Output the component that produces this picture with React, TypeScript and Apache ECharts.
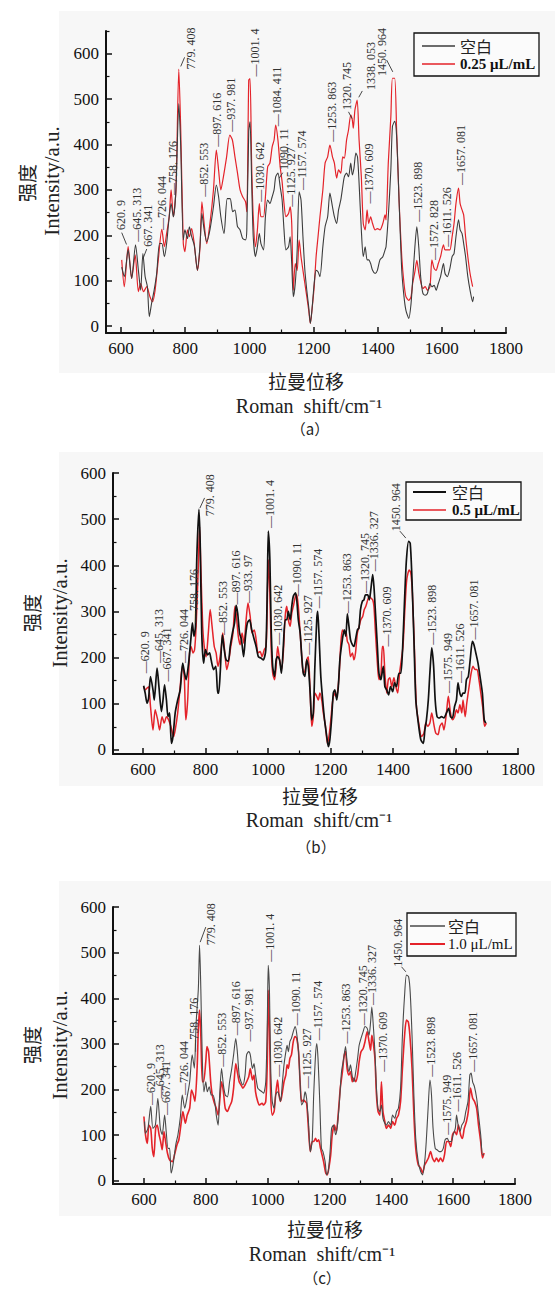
import React, { useEffect, useRef } from "react";
import * as echarts from "echarts";

// ---------- data (wavenumber cm-1, intensity a.u.) ----------
const blankA: [number, number][] = [[602,130],[610,109],[622,168],[633,105],[645,179],[654,123],[661,79],[668,160],[675,109],[682,87],[688,21],[695,50],[703,79],[711,116],[720,182],[727,182],[735,153],[742,182],[750,241],[756,270],[763,241],[771,300],[780,490],[786,395],[794,190],[799,212],[807,193],[813,219],[820,197],[828,179],[838,123],[846,177],[852,248],[859,212],[867,186],[877,212],[888,263],[897,311],[904,285],[911,241],[921,204],[931,281],[940,281],[948,252],[955,256],[963,219],[971,212],[979,193],[988,190],[992,212],[998,430],[1002,450],[1007,322],[1012,197],[1019,153],[1025,175],[1031,204],[1036,182],[1044,168],[1050,241],[1057,278],[1064,270],[1071,285],[1077,300],[1082,329],[1089,337],[1096,307],[1102,278],[1108,212],[1114,168],[1122,175],[1127,197],[1132,138],[1137,65],[1143,94],[1149,168],[1155,296],[1161,278],[1167,197],[1173,123],[1179,79],[1185,42],[1190,6],[1195,35],[1202,94],[1208,123],[1214,120],[1220,109],[1229,175],[1236,219],[1244,241],[1251,293],[1259,263],[1265,241],[1272,226],[1278,256],[1285,278],[1291,307],[1296,329],[1303,337],[1309,329],[1316,359],[1321,333],[1326,348],[1332,381],[1337,373],[1342,315],[1349,212],[1355,153],[1361,175],[1367,146],[1372,146],[1378,138],[1384,123],[1392,116],[1399,123],[1407,146],[1416,153],[1423,168],[1426,175],[1433,241],[1441,344],[1446,440],[1453,451],[1459,418],[1467,270],[1475,123],[1482,65],[1488,35],[1497,17],[1504,50],[1509,101],[1516,175],[1522,219],[1528,175],[1534,109],[1541,72],[1548,68],[1555,72],[1563,94],[1569,87],[1576,90],[1582,79],[1589,94],[1596,109],[1605,138],[1610,116],[1617,109],[1625,127],[1632,153],[1638,160],[1644,197],[1652,234],[1657,212],[1663,204],[1668,182],[1674,153],[1681,109],[1688,79],[1696,54],[1699,65]];
const dosedA: [number, number][] = [[602,146],[610,87],[622,175],[633,105],[644,157],[654,76],[661,94],[670,76],[680,87],[690,65],[698,54],[706,79],[716,146],[727,213],[735,175],[742,204],[750,241],[756,300],[763,241],[771,300],[780,566],[786,432],[794,182],[799,164],[807,212],[813,197],[820,215],[828,182],[838,123],[846,174],[852,274],[859,226],[867,182],[877,226],[888,300],[897,388],[904,344],[911,300],[919,329],[929,373],[939,421],[947,410],[955,373],[963,337],[971,300],[979,285],[988,274],[992,252],[998,542],[1002,545],[1007,359],[1012,241],[1019,175],[1025,212],[1031,270],[1036,241],[1044,241],[1050,285],[1057,351],[1064,359],[1071,395],[1077,410],[1082,443],[1089,410],[1096,351],[1102,318],[1108,270],[1114,241],[1122,248],[1127,263],[1132,226],[1137,79],[1143,138],[1149,123],[1155,190],[1161,153],[1167,123],[1173,94],[1179,65],[1185,35],[1190,6],[1195,35],[1202,87],[1208,153],[1214,197],[1220,241],[1229,300],[1236,359],[1244,373],[1251,399],[1259,373],[1265,359],[1272,326],[1278,344],[1285,337],[1291,373],[1296,370],[1303,410],[1309,432],[1316,465],[1321,454],[1324,436],[1329,476],[1336,498],[1342,410],[1349,329],[1355,226],[1361,212],[1367,256],[1372,226],[1378,241],[1384,226],[1392,212],[1399,215],[1407,212],[1416,226],[1423,245],[1426,234],[1433,359],[1441,461],[1446,546],[1453,546],[1459,432],[1467,270],[1475,153],[1482,94],[1488,65],[1497,57],[1504,65],[1509,94],[1516,120],[1522,145],[1528,118],[1534,98],[1541,83],[1548,87],[1555,79],[1563,87],[1569,146],[1576,127],[1582,123],[1589,138],[1596,153],[1605,179],[1610,168],[1617,168],[1625,168],[1632,197],[1638,226],[1644,270],[1652,304],[1657,270],[1663,256],[1668,245],[1674,197],[1681,153],[1688,116],[1696,87]];

const blankB: [number, number][] = [[602,139],[607,123],[613,101],[618,112],[624,159],[632,130],[636,108],[645,177],[651,137],[659,83],[664,108],[669,141],[675,108],[680,72],[685,80],[691,14],[696,29],[703,80],[711,108],[719,130],[727,188],[733,166],[738,152],[746,188],[753,239],[758,275],[763,246],[768,268],[772,412],[779,521],[783,448],[788,253],[794,188],[800,217],[807,206],[813,210],[818,195],[826,174],[833,181],[839,123],[842,123],[847,166],[854,249],[860,217],[866,195],[873,192],[879,224],[886,253],[893,275],[898,313],[903,296],[909,253],[915,239],[922,202],[928,246],[934,275],[941,282],[948,260],[956,239],[962,224],[969,202],[977,199],[985,195],[993,217],[998,362],[1001,474],[1006,412],[1010,268],[1015,181],[1021,159],[1026,195],[1031,202],[1037,195],[1043,166],[1049,224],[1055,282],[1060,282],[1065,300],[1071,282],[1076,311],[1081,333],[1088,340],[1092,325],[1097,282],[1103,253],[1108,202],[1113,166],[1118,159],[1124,195],[1129,181],[1135,123],[1140,65],[1145,80],[1150,181],[1156,282],[1159,300],[1163,253],[1169,159],[1175,108],[1181,65],[1188,29],[1193,7],[1198,22],[1204,72],[1209,123],[1214,130],[1220,108],[1225,137],[1230,195],[1238,239],[1244,260],[1249,246],[1254,295],[1259,268],[1264,239],[1270,228],[1275,224],[1280,239],[1286,260],[1291,264],[1296,304],[1302,322],[1307,325],[1312,336],[1319,336],[1324,325],[1329,347],[1335,380],[1339,354],[1344,296],[1350,224],[1355,166],[1361,152],[1365,166],[1369,181],[1374,137],[1380,130],[1386,119],[1392,137],[1399,126],[1405,145],[1411,137],[1419,166],[1425,166],[1431,224],[1437,325],[1443,412],[1450,452],[1455,448],[1460,383],[1467,239],[1473,108],[1481,58],[1489,22],[1497,14],[1502,43],[1507,65],[1513,108],[1518,166],[1524,221],[1530,181],[1535,108],[1541,72],[1548,69],[1555,72],[1563,69],[1571,80],[1578,90],[1584,72],[1590,69],[1597,94],[1603,108],[1608,145],[1614,123],[1619,116],[1624,123],[1630,123],[1635,152],[1641,159],[1647,195],[1654,235],[1659,228],[1665,210],[1672,188],[1680,152],[1686,123],[1692,65],[1697,58]];
const dosedB: [number, number][] = [[602,137],[607,130],[613,134],[618,137],[624,94],[632,43],[639,87],[647,65],[653,43],[661,72],[668,58],[675,72],[682,65],[689,51],[698,29],[703,43],[711,80],[719,137],[726,181],[732,159],[737,65],[743,108],[749,210],[754,224],[760,210],[765,217],[770,268],[777,398],[781,484],[785,398],[791,268],[796,224],[802,202],[809,253],[815,304],[821,268],[828,224],[834,210],[840,181],[845,195],[851,224],[855,253],[862,210],[868,174],[875,195],[881,224],[888,253],[894,311],[898,296],[905,246],[911,228],[917,253],[923,231],[930,282],[936,318],[943,289],[949,253],[956,260],[962,239],[968,210],[975,213],[981,202],[988,217],[994,224],[998,325],[1001,412],[1006,340],[1010,224],[1015,166],[1021,152],[1026,181],[1031,224],[1037,195],[1043,174],[1049,210],[1055,289],[1060,311],[1065,282],[1071,268],[1076,296],[1081,311],[1088,333],[1092,336],[1097,311],[1103,253],[1108,202],[1113,166],[1118,170],[1124,195],[1129,202],[1135,123],[1140,51],[1145,72],[1150,123],[1156,116],[1161,108],[1166,123],[1172,108],[1177,80],[1184,51],[1190,14],[1195,29],[1201,65],[1206,101],[1212,123],[1217,116],[1222,123],[1228,166],[1233,231],[1238,260],[1244,253],[1249,257],[1254,235],[1259,228],[1264,202],[1270,210],[1275,195],[1280,210],[1286,253],[1292,268],[1297,282],[1303,289],[1308,304],[1313,311],[1319,325],[1324,333],[1329,329],[1335,325],[1339,311],[1344,253],[1350,188],[1355,152],[1361,159],[1366,224],[1369,224],[1374,166],[1380,123],[1385,152],[1390,156],[1396,137],[1403,156],[1409,137],[1415,123],[1421,166],[1426,192],[1432,224],[1438,304],[1444,369],[1452,390],[1457,383],[1462,340],[1469,210],[1475,94],[1484,51],[1491,29],[1499,36],[1505,58],[1511,51],[1518,58],[1524,80],[1531,54],[1537,36],[1544,33],[1550,51],[1557,58],[1563,43],[1571,80],[1577,116],[1584,80],[1590,65],[1597,72],[1603,87],[1608,80],[1614,98],[1620,80],[1624,108],[1631,72],[1636,101],[1642,130],[1650,166],[1656,181],[1663,174],[1669,174],[1675,152],[1681,123],[1688,87],[1693,51],[1699,58]];

const blankC: [number, number][] = [[602,130],[605,104],[613,115],[622,163],[629,115],[637,122],[645,181],[653,115],[659,101],[667,144],[672,108],[678,71],[683,71],[688,17],[694,35],[703,79],[710,101],[718,141],[724,188],[732,159],[739,181],[748,217],[756,276],[763,247],[769,348],[776,421],[780,516],[784,421],[789,261],[794,195],[800,217],[805,195],[811,206],[818,188],[823,188],[829,174],[834,144],[840,122],[845,188],[851,246],[857,210],[863,188],[870,184],[877,217],[884,246],[890,276],[897,312],[902,283],[908,232],[914,217],[920,210],[927,232],[932,276],[939,283],[944,276],[951,246],[956,257],[961,232],[968,203],[974,199],[982,195],[987,192],[994,217],[999,348],[1002,472],[1006,414],[1010,246],[1015,174],[1021,159],[1026,188],[1032,195],[1037,188],[1042,174],[1048,217],[1053,254],[1059,283],[1063,297],[1067,283],[1072,305],[1077,312],[1083,327],[1089,338],[1094,323],[1100,283],[1105,217],[1110,166],[1116,174],[1121,195],[1126,181],[1132,130],[1138,64],[1144,86],[1149,188],[1155,276],[1159,301],[1163,268],[1169,166],[1174,71],[1179,64],[1186,42],[1191,13],[1196,20],[1202,64],[1207,115],[1213,122],[1220,101],[1226,122],[1233,181],[1239,239],[1246,268],[1252,294],[1257,261],[1263,239],[1268,254],[1274,228],[1279,217],[1285,239],[1291,268],[1296,297],[1302,312],[1309,327],[1315,338],[1322,334],[1328,319],[1333,348],[1337,381],[1341,348],[1347,283],[1352,203],[1357,159],[1363,152],[1368,166],[1373,137],[1379,126],[1384,122],[1391,130],[1398,122],[1404,144],[1411,137],[1417,152],[1423,159],[1430,203],[1436,319],[1443,407],[1449,451],[1456,447],[1461,414],[1467,319],[1473,188],[1479,93],[1487,42],[1495,20],[1501,13],[1508,42],[1513,86],[1519,159],[1525,221],[1530,188],[1535,115],[1542,71],[1548,68],[1555,64],[1561,64],[1568,71],[1574,90],[1581,93],[1587,86],[1594,86],[1600,101],[1607,115],[1611,144],[1616,122],[1622,108],[1628,122],[1635,130],[1641,152],[1648,174],[1654,232],[1658,236],[1663,217],[1669,206],[1676,181],[1682,144],[1689,101],[1695,57],[1700,57]];
const dosedC: [number, number][] = [[600,141],[605,101],[611,82],[616,122],[622,115],[627,71],[632,53],[638,115],[643,122],[649,101],[654,86],[659,68],[665,108],[670,86],[676,61],[683,46],[692,42],[699,57],[707,79],[713,90],[721,130],[726,152],[734,126],[740,144],[748,159],[754,199],[760,188],[765,174],[772,246],[776,334],[780,374],[784,319],[789,217],[793,217],[800,261],[804,294],[809,283],[816,217],[821,188],[828,170],[834,159],[840,144],[845,174],[851,217],[857,195],[863,159],[870,152],[877,163],[884,174],[890,203],[897,257],[902,239],[908,217],[914,210],[920,203],[927,210],[932,217],[939,228],[944,246],[951,221],[956,232],[961,195],[968,174],[974,166],[982,170],[987,166],[994,174],[999,261],[1002,418],[1006,334],[1010,188],[1015,144],[1021,152],[1026,188],[1032,221],[1037,188],[1042,174],[1048,195],[1053,217],[1059,232],[1063,254],[1067,246],[1072,268],[1077,276],[1083,305],[1089,316],[1094,312],[1100,283],[1105,217],[1110,174],[1116,177],[1121,174],[1126,170],[1132,115],[1138,64],[1144,86],[1149,86],[1155,93],[1160,86],[1165,90],[1171,71],[1176,57],[1181,42],[1188,17],[1193,13],[1198,28],[1204,57],[1209,101],[1216,122],[1222,108],[1229,152],[1235,203],[1242,239],[1247,272],[1252,283],[1257,246],[1263,232],[1268,239],[1274,217],[1279,225],[1285,217],[1291,232],[1296,261],[1302,283],[1309,290],[1315,305],[1322,327],[1328,305],[1333,286],[1337,319],[1341,305],[1347,268],[1352,188],[1357,152],[1363,144],[1368,217],[1373,152],[1379,130],[1384,115],[1391,122],[1398,115],[1404,130],[1411,122],[1417,137],[1423,144],[1430,174],[1436,246],[1443,319],[1449,352],[1455,348],[1460,319],[1467,246],[1473,144],[1479,71],[1487,35],[1495,28],[1501,17],[1508,35],[1514,42],[1520,50],[1527,64],[1533,50],[1540,42],[1546,50],[1553,42],[1559,50],[1566,42],[1572,57],[1579,86],[1585,86],[1592,75],[1598,101],[1605,108],[1611,101],[1617,122],[1624,101],[1630,93],[1636,115],[1643,130],[1649,152],[1656,203],[1663,181],[1669,174],[1676,159],[1682,122],[1689,86],[1695,50],[1700,61]];

// peak annotations: [wavenumber of label, intensity at label start, text]
const peaksA: [number, number, string][] = [[599,212,"620. 9"],[651,186,"—645. 313"],[683,175,"667. 341"],[727,212,"—726. 044"],[761,289,"—758. 176"],[818,565,"779. 408"],[857,285,"—852. 553"],[900,395,"—897. 616"],[943,428,"—937. 981"],[1018,550,"—1001. 4"],[1033,274,"—1030. 642"],[1085,440,"—1084. 411"],[1109,344,"1090. 11"],[1130,263,"—1125. 927"],[1163,300,"—1157. 574"],[1259,406,"—1253. 863"],[1305,476,"1320. 745"],[1380,520,"1338. 053"],[1374,270,"—1370. 609"],[1414,551,"1450. 964"],[1527,230,"—1523. 898"],[1577,146,"—1572. 828"],[1615,175,"—1611. 526"],[1659,311,"—1657. 081"]];
const leadersA: [number, number, number, number][] = [[602,206,617,180],[680,170,669,150],[786,572,798,592],[1104,338,1093,326],[1309,472,1320,457],[1341,504,1352,518],[1428,586,1447,560]];
const peaksB: [number, number, string][] = [[607,166,"—620. 9"],[650,188,"—645. 313"],[677,148,"—667. 341"],[730,188,"—726. 044"],[764,275,"—758. 176"],[815,506,"779. 408"],[856,249,"—852. 553"],[898,315,"—897. 616"],[935,318,"—933. 97"],[1007,481,"—1001. 4"],[1033,228,"—1030. 642"],[1092,333,"—1090. 11"],[1129,206,"—1125. 927"],[1161,307,"—1157. 574"],[1254,296,"—1253. 863"],[1310,340,"—1320. 745"],[1339,387,"—1336. 327"],[1411,474,"1450. 964"],[1382,224,"—1370. 609"],[1526,228,"—1523. 898"],[1576,123,"—1575. 949"],[1614,145,"—1611. 526"],[1659,239,"—1657. 081"]];
const leadersB: [number, number, number, number][] = [[782,524,797,546],[1422,474,1441,459]];
const peaksC: [number, number, string][] = [[624,166,"—620. 9"],[651,181,"—645. 313"],[672,144,"—667. 341"],[728,188,"—726. 044"],[762,283,"—758. 176"],[818,516,"779. 408"],[852,250,"—852. 553"],[899,319,"—897. 616"],[940,305,"—937. 981"],[1007,480,"—1001. 4"],[1034,228,"—1030. 642"],[1093,341,"—1090. 11"],[1128,203,"—1125. 927"],[1163,308,"—1157. 574"],[1255,301,"—1253. 863"],[1309,341,"—1320. 745"],[1339,385,"—1336. 327"],[1422,469,"1450. 964"],[1374,239,"—1370. 609"],[1527,228,"—1523. 898"],[1579,101,"—1575. 949"],[1614,152,"—1611. 526"],[1665,239,"—1657. 081"]];
const leadersC: [number, number, number, number][] = [[782,523,800,556],[1433,469,1447,458]];

const xMajorTicks = [600, 800, 1000, 1200, 1400, 1600, 1800];
const xMinorTicks = [700, 900, 1100, 1300, 1500, 1700];
const yMajorTicks = [0, 100, 200, 300, 400, 500, 600];
const yMinorTicksA = [50, 150, 250, 350, 450, 550, 650];
const yMinorTicksBC = [50, 150, 250, 350, 450, 550];
const blankName = "空白";
const doseNames = ["0.25 μL/mL", "0.5 μL/mL", "1.0 μL/mL"];
const panelTags = ["（a）", "（b）", "（c）"];

const SERIF = "'Liberation Serif', 'Times New Roman', serif";
const CJK = "'Noto Sans CJK SC', sans-serif";
const RED = "#e4232a";

export default function App() {
  const ref = useRef<HTMLDivElement>(null);
  useEffect(() => {
    if (!ref.current) return;
    const chart = echarts.init(ref.current, null, { renderer: "svg" });
    const panels = [
      { grid: { left: 106, top: 31, width: 400, height: 302 }, xMin: 553, yMin: -15, yMax: 650, yMinor: yMinorTicksA, blank: blankA, dosed: dosedA, blankColor: "#3c3c3c", blankW: 1.1, redW: 1.2, peaks: peaksA, leaders: leadersA },
      { grid: { left: 113, top: 473, width: 405, height: 281 }, xMin: 504, yMin: -9, yMax: 600, yMinor: yMinorTicksBC, blank: blankB, dosed: dosedB, blankColor: "#111111", blankW: 1.7, redW: 1.5, peaks: peaksB, leaders: leadersB },
      { grid: { left: 113, top: 907, width: 402, height: 277 }, xMin: 500, yMin: -7, yMax: 600, yMinor: yMinorTicksBC, blank: blankC, dosed: dosedC, blankColor: "#4a4a4a", blankW: 1.1, redW: 1.6, peaks: peaksC, leaders: leadersC },
    ];
    const grids: any[] = [];
    const xAxes: any[] = [];
    const yAxes: any[] = [];
    const series: any[] = [];
    const labelStyle = { fontFamily: SERIF, fontSize: 17, color: "#111" };
    panels.forEach((p, i) => {
      grids.push({ ...p.grid });
      xAxes.push({
        type: "value", gridIndex: i, position: "bottom", min: p.xMin, max: 1800,
        axisLine: { show: true, onZero: false, lineStyle: { color: "#111", width: 2 } },
        axisTick: { show: true, inside: true, length: 6, customValues: xMajorTicks, lineStyle: { color: "#111", width: 1.5 } },
        axisLabel: { show: true, customValues: xMajorTicks, margin: 7, formatter: (v: number) => String(v), ...labelStyle },
        splitLine: { show: false },
      });
      xAxes.push({
        type: "value", gridIndex: i, position: "bottom", min: p.xMin, max: 1800,
        axisLine: { show: false, onZero: false },
        axisTick: { show: true, inside: true, length: 3.5, customValues: xMinorTicks, lineStyle: { color: "#111", width: 1.2 } },
        axisLabel: { show: false },
        splitLine: { show: false },
      });
      yAxes.push({
        type: "value", gridIndex: i, position: "left", min: p.yMin, max: p.yMax,
        axisLine: { show: true, onZero: false, lineStyle: { color: "#111", width: 2 } },
        axisTick: { show: true, inside: true, length: 6, customValues: yMajorTicks, lineStyle: { color: "#111", width: 1.5 } },
        axisLabel: { show: true, customValues: yMajorTicks, margin: 7, formatter: (v: number) => String(v), ...labelStyle },
        splitLine: { show: false },
      });
      yAxes.push({
        type: "value", gridIndex: i, position: "left", min: p.yMin, max: p.yMax,
        axisLine: { show: false, onZero: false },
        axisTick: { show: true, inside: true, length: 3.5, customValues: p.yMinor, lineStyle: { color: "#111", width: 1.2 } },
        axisLabel: { show: false },
        splitLine: { show: false },
      });
      series.push({
        type: "line", name: blankName, xAxisIndex: 2 * i, yAxisIndex: 2 * i, data: p.blank,
        showSymbol: false, symbol: "none", smooth: 0.25, z: 3,
        lineStyle: { color: p.blankColor, width: p.blankW },
      });
      series.push({
        type: "line", name: doseNames[i], xAxisIndex: 2 * i, yAxisIndex: 2 * i, data: p.dosed,
        showSymbol: false, symbol: "none", smooth: 0.25, z: 2,
        lineStyle: { color: RED, width: p.redW },
      });
    });

    chart.setOption({ animation: false, backgroundColor: "#ffffff", grid: grids, xAxis: xAxes, yAxis: yAxes, series });

    const g: any[] = [];
    const bgs = [[59, 11, 496, 362], [59, 452, 484, 334], [59, 881, 492, 335]];
    bgs.forEach(([x, y, w, h]) => g.push({ type: "rect", z: -10, shape: { x, y, width: w, height: h }, style: { fill: "#f7f7f7" } }));

    const legends = [
      { box: [414, 33, 125, 43], lx: [422, 455], ly: [46, 64], tx: 460, bold: true },
      { box: [406, 482, 115, 38], lx: [413, 446], ly: [492, 510], tx: 452, bold: true },
      { box: [407, 913, 109, 43], lx: [410, 445], ly: [926, 944], tx: 448, bold: false },
    ];
    legends.forEach((l, i) => {
      g.push({ type: "rect", z: 20, shape: { x: l.box[0], y: l.box[1], width: l.box[2], height: l.box[3] }, style: { fill: "#fbfbfb", stroke: "#111", lineWidth: 1.3 } });
      g.push({ type: "line", z: 21, shape: { x1: l.lx[0], y1: l.ly[0], x2: l.lx[1], y2: l.ly[0] }, style: { stroke: panels[i].blankColor, lineWidth: panels[i].blankW + 0.2 } });
      g.push({ type: "line", z: 21, shape: { x1: l.lx[0], y1: l.ly[1], x2: l.lx[1], y2: l.ly[1] }, style: { stroke: RED, lineWidth: panels[i].redW + 0.2 } });
      g.push({ type: "text", z: 21, x: l.tx, y: l.ly[0], style: { text: blankName, fontFamily: CJK, fontSize: 16, fill: "#222", align: "left", verticalAlign: "middle" } });
      g.push({ type: "text", z: 21, x: l.tx, y: l.ly[1], style: { text: doseNames[i], fontFamily: SERIF, fontSize: 15, fontWeight: l.bold ? "bold" : "normal", fill: "#111", align: "left", verticalAlign: "middle" } });
    });

    const titles = [
      { q: [26, 183], it: [52, 181], lm: [306, 380], rs: [309, 406], tag: [310, 428] },
      { q: [31, 613], it: [60, 613], lm: [320, 795], rs: [319, 820], tag: [316, 846] },
      { q: [31, 1045], it: [60, 1045], lm: [325, 1228], rs: [322, 1254], tag: [322, 1277] },
    ];
    titles.forEach((t, i) => {
      g.push({ type: "text", x: t.q[0], y: t.q[1], rotation: Math.PI / 2, style: { text: "强度", fontFamily: CJK, fontSize: 19, fill: "#222", align: "center", verticalAlign: "middle" } });
      g.push({ type: "text", x: t.it[0], y: t.it[1], rotation: Math.PI / 2, style: { text: "Intensity/a.u.", fontFamily: SERIF, fontSize: 21, fill: "#222", align: "center", verticalAlign: "middle" } });
      g.push({ type: "text", x: t.lm[0], y: t.lm[1], style: { text: "拉曼位移", fontFamily: CJK, fontSize: 19, fill: "#222", align: "center", verticalAlign: "middle" } });
      g.push({ type: "text", x: t.rs[0], y: t.rs[1], style: { text: "Roman  shift/cm⁻¹", fontFamily: SERIF, fontSize: 20, fill: "#222", align: "center", verticalAlign: "middle" } });
      g.push({ type: "text", x: t.tag[0], y: t.tag[1], style: { text: panelTags[i], fontFamily: CJK, fontSize: 15, fill: "#222", align: "center", verticalAlign: "middle" } });
    });

    panels.forEach((p, i) => {
      const finder = { xAxisIndex: 2 * i, yAxisIndex: 2 * i };
      p.peaks.forEach(([w, v, text]) => {
        const pt = chart.convertToPixel(finder as any, [w, v]) as number[];
        g.push({ type: "text", z: 15, x: pt[0], y: pt[1], rotation: Math.PI / 2, style: { text, fontFamily: SERIF, fontSize: 12, fill: "#333", align: "left", verticalAlign: "middle" } });
      });
      p.leaders.forEach(([w1, v1, w2, v2]) => {
        const a = chart.convertToPixel(finder as any, [w1, v1]) as number[];
        const b = chart.convertToPixel(finder as any, [w2, v2]) as number[];
        g.push({ type: "line", z: 15, shape: { x1: a[0], y1: a[1], x2: b[0], y2: b[1] }, style: { stroke: "#333", lineWidth: 0.9 } });
      });
    });

    chart.setOption({ graphic: g });
    return () => chart.dispose();
  }, []);
  return <div ref={ref} style={{ position: "absolute", left: 0, top: 0, width: 555, height: 1290 }} />;
}
